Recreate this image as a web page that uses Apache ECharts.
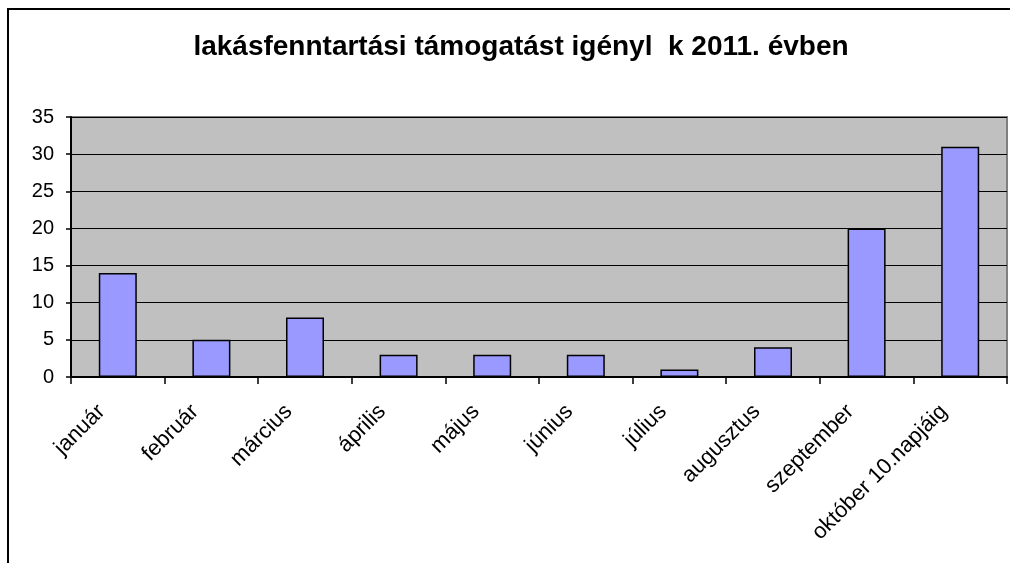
<!DOCTYPE html>
<html>
<head>
<meta charset="utf-8">
<script src="https://cdn.jsdelivr.net/npm/echarts@6/dist/echarts.min.js"></script>
<style>
  html, body { margin: 0; padding: 0; background: #fff; }
  #chart { width: 1010px; height: 563px; }
</style>
</head>
<body>
<div id="chart"></div>
<script>
// adatok
const months = ['január', 'február', 'március', 'április', 'május', 'június',
  'július', 'augusztus', 'szeptember', 'október 10.napjáig'];
const applicants = [14, 5, 8, 3, 3, 3, 1, 4, 20, 31];
const yTicks = [0, 5, 10, 15, 20, 25, 30, 35];

const font = 'Liberation Sans, Arial, sans-serif';

const myChart = echarts.init(document.getElementById('chart'));

const option = {
  animation: false,
  backgroundColor: '#fff',
  title: {
    text: 'lakásfenntartási támogatást igényl  k 2011. évben',
    left: 521,
    textAlign: 'center',
    top: 33,
    padding: 0,
    textStyle: { fontFamily: font, fontSize: 28, fontWeight: 'bold', color: '#000' },
  },
  graphic: [
    {
      type: 'rect',
      shape: { x: 8, y: 9, width: 1200, height: 1000 },
      style: { fill: 'none', stroke: '#000', lineWidth: 2 },
      silent: true,
    },
  ],
  grid: {
    left: 71,
    right: 3,
    top: 117,
    bottom: 186,
    show: true,
    backgroundColor: '#C0C0C0',
    borderColor: '#808080',
    borderWidth: 2,
  },
  xAxis: {
    type: 'category',
    data: months,
    axisLine: { lineStyle: { color: '#000', width: 2 } },
    axisTick: { show: true, length: 7, lineStyle: { color: '#000', width: 1.5 } },
    axisLabel: {
      rotate: 45,
      interval: 0,
      margin: 15,
      padding: [0, 23, 0, 0],
      color: '#000',
      fontFamily: font,
      fontSize: 22,
    },
  },
  yAxis: {
    type: 'value',
    min: yTicks[0],
    max: yTicks[yTicks.length - 1],
    interval: yTicks[1] - yTicks[0],
    axisLine: { show: true, lineStyle: { color: '#000', width: 2 } },
    axisTick: { show: true, length: 5, lineStyle: { color: '#000', width: 1.5 } },
    axisLabel: { margin: 17, color: '#000', fontFamily: font, fontSize: 20 },
    splitLine: { show: true, lineStyle: { color: '#000', width: 1 } },
  },
  series: [
    {
      type: 'bar',
      data: applicants,
      barWidth: 38,
      itemStyle: { color: '#9999FF', borderColor: '#000', borderWidth: 1.5 },
    },
  ],
};

myChart.setOption(option);
window.addEventListener('resize', () => myChart.resize());
</script>
</body>
</html>
